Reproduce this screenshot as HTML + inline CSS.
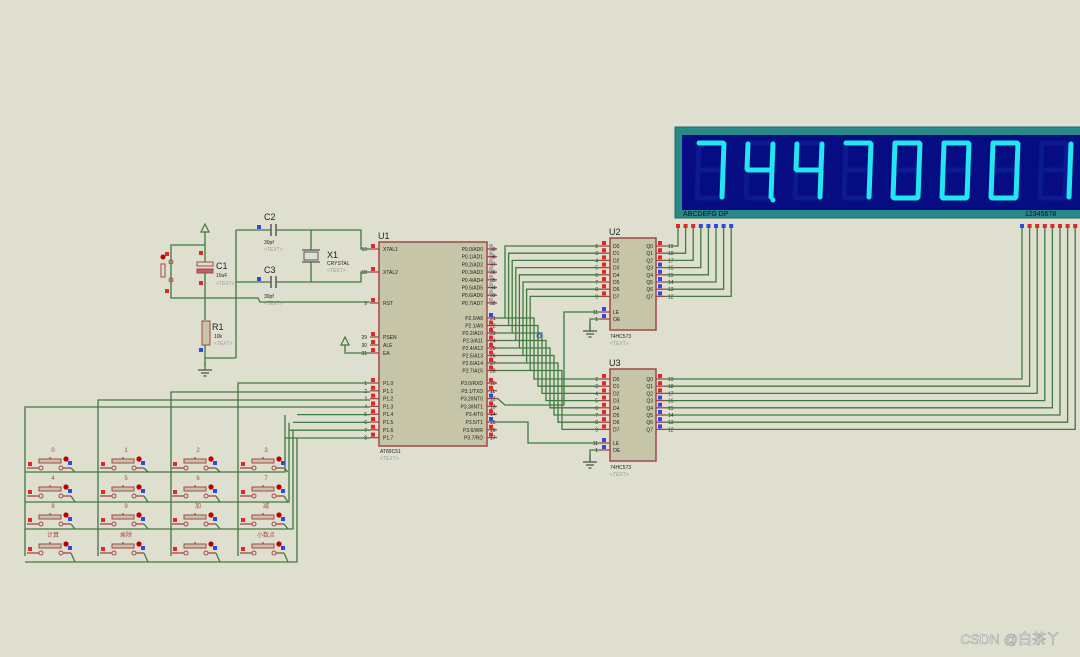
<!DOCTYPE html>
<html><head><meta charset="utf-8"><style>
html,body{margin:0;padding:0;background:#dfdfcf;}
svg{display:block;font-family:"Liberation Sans","Noto Sans CJK SC",sans-serif;}
</style></head><body>
<svg id="s" width="1080" height="657" viewBox="0 0 1080 657" xmlns="http://www.w3.org/2000/svg">
<rect width="1080" height="657" fill="#dfdfcf"/>
<g id="g"></g>
<text x="1060" y="644" text-anchor="end" font-size="14" fill="#ffffff" stroke="#9a9a9a" stroke-width="0.6">CSDN @白茶丫</text>
</svg>
<script>
const NS="http://www.w3.org/2000/svg",G=document.getElementById('g');
const W='#3f7a3f',R='#a04848',RED='#e02828',BLU='#3048e0';
function el(n,a,txt){const e=document.createElementNS(NS,n);for(const k in a)e.setAttribute(k,a[k]);if(txt!==undefined)e.textContent=txt;G.appendChild(e);return e;}
function pl(p,c,w){el('polyline',{points:p.map(q=>q.join(',')).join(' '),fill:'none',stroke:c||W,'stroke-width':w||1.3});}
function ln(x1,y1,x2,y2,c,w){el('line',{x1,y1,x2,y2,stroke:c||W,'stroke-width':w||1.3});}
function pin(x,y,c){el('rect',{x:x-2,y:y-2,width:4,height:4,fill:c});}
function t(x,y,s,sz,f,a,fw){el('text',{x,y,'font-size':sz,fill:f||'#333','text-anchor':a||'start','font-weight':fw||'normal'},s);}
function gnd(x,y){ln(x,y-8,x,y,W);ln(x-7,y,x+7,y,'#555');ln(x-4,y+3,x+4,y+3,'#555');ln(x-1.5,y+6,x+1.5,y+6,'#555');}
function pwr(x,y){el('polygon',{points:`${x},${y} ${x-4},${y+8} ${x+4},${y+8}`,fill:'none',stroke:W,'stroke-width':1.2});}

/* display */
el('rect',{x:675,y:127,width:410,height:91,fill:'#2a8888',stroke:'#1c6a6a'});
el('rect',{x:682,y:135,width:400,height:75,fill:'#060c82'});
t(683,216,'ABCDEFG  DP',7,'#111');t(1025,216,'12345678',7,'#111');
const SEG={a:[[2,0],[26,0]],b:[[27,1],[26,26]],c:[[26,28],[25,54]],d:[[1,55],[24,55]],e:[[1,28],[0,54]],f:[[2,1],[1,26]],g:[[2,27],[25,27]]};
const DIG={'7':'abc','4':'fgbc','0':'abcdef','1':'bc'};
const xs=[697,746,795,844,893,942,991,1040],ds=['7','4','4','7','0','0','0','1'];
for(let i=0;i<8;i++){const x0=xs[i],y0=143;
 for(const s of 'abcdefg'){const p=SEG[s];el('line',{x1:x0+p[0][0],y1:y0+p[0][1],x2:x0+p[1][0],y2:y0+p[1][1],stroke:'#0a1a90','stroke-width':5,'stroke-linecap':'round'});}
 for(const s of DIG[ds[i]]){const p=SEG[s];let dx=i==7?4:0;el('line',{x1:x0+p[0][0]+dx,y1:y0+p[0][1],x2:x0+p[1][0]+dx,y2:y0+p[1][1],stroke:'#22e6f0','stroke-width':5,'stroke-linecap':'round'});}}
el('circle',{cx:773,cy:200,r:2.5,fill:'#22e6f0'});
for(let i=0;i<8;i++){pin(678+7.6*i,226,i<3?RED:BLU);pin(1022+7.6*i,226,i==0?BLU:RED);}

/* U1 */
el('rect',{x:379,y:242,width:108,height:204,fill:'#c7c5a8',stroke:R,'stroke-width':1.5});
t(378,239,'U1',9,'#222');t(380,453,'AT89C51',5,'#222');t(380,460,'<TEXT>',5,'#999');
const lp=[[249,'19','XTAL1'],[272,'18','XTAL2'],[303,'9','RST'],[337,'29','PSEN'],[345,'30','ALE'],[353,'31','EA']];
for(let i=0;i<8;i++)lp.push([383+7.8*i,''+(i+1),'P1.'+i]);
for(const [y,n,l] of lp){ln(370,y,379,y,R);t(367,y+2,n,5,'#222','end');t(383,y+2,l,5,'#222');pin(373,y-3,RED);}
const p0=['P0.0/AD0','P0.1/AD1','P0.2/AD2','P0.3/AD3','P0.4/AD4','P0.5/AD5','P0.6/AD6','P0.7/AD7'];
const p2=['P2.0/A8','P2.1/A9','P2.2/A10','P2.3/A11','P2.4/A12','P2.5/A13','P2.6/A14','P2.7/A15'];
const p3=['P3.0/RXD','P3.1/TXD','P3.2/INT0','P3.3/INT1','P3.4/T0','P3.5/T1','P3.6/WR','P3.7/RD'];
for(let i=0;i<8;i++){
 let y=249+7.7*i;ln(487,y,497,y,R);t(483,y+2,p0[i],5,'#222','end');t(490,y+2,''+(39-i),5,'#222');pin(491,y-3,'#aaa');
 y=318+7.5*i;ln(487,y,497,y,R);t(483,y+2,p2[i],5,'#222','end');t(490,y+2,''+(21+i),5,'#222');pin(491,y-3,i==0?BLU:RED);
 y=383+7.8*i;ln(487,y,497,y,R);t(483,y+2,p3[i],5,'#222','end');t(490,y+2,''+(10+i),5,'#222');pin(491,y-3,(i==2||i==5)?BLU:RED);}

/* latches */
function latch(y0,name,dy,le){
 el('rect',{x:610,y:y0,width:46,height:le+12-y0+6,fill:'#c7c5a8',stroke:R,'stroke-width':1.5});
 t(609,y0-3,name,9,'#222');t(610,le+26,'74HC573',5,'#222');t(610,le+33,'<TEXT>',5,'#999');
 for(let i=0;i<8;i++){const y=dy+7.2*i;ln(600,y,610,y,R);ln(656,y,666,y,R);t(613,y+2,'D'+i,5,'#222');t(653,y+2,'Q'+i,5,'#222','end');
  t(598,y+2,''+(2+i),5,'#222','end');t(668,y+2,''+(19-i),5,'#222');pin(604,y-3,RED);pin(660,y-3,i<3?RED:BLU);}
 ln(600,le,610,le,R);ln(600,le+7,610,le+7,R);t(613,le+2,'LE',5,'#222');t(613,le+9,'OE',5,'#222');
 t(598,le+2,'11',5,'#222','end');t(598,le+9,'1',5,'#222','end');pin(604,le-3,BLU);pin(604,le+4,BLU);
 pl([[600,le+7],[590,le+7],[590,le+19]]);gnd(590,le+19);}
latch(238,'U2',246,312);latch(369,'U3',379,443);

for(let i=0;i<8;i++){
 const yp=318+7.5*i,xa=505+3.6*i,xb=534+4*i,yu=246+7.2*i,yl=379+7.2*i;
 pl([[600,yu],[xa,yu],[xa,yp]]);
 pl([[497,yp],[xb,yp],[xb,yl],[600,yl]]);
 pl([[666,yu],[678+7.6*i,yu],[678+7.6*i,228]]);
 pl([[666,yl],[1022+7.6*i,yl],[1022+7.6*i,228]]);}
el('circle',{cx:539,cy:336,r:2,fill:'none',stroke:BLU});
pl([[497,398],[505,405],[564,405],[564,312],[600,312]]);
pl([[497,422],[528,422],[528,443],[600,443]]);

/* clock/reset */
pl([[236,230],[262,230]]);ln(236,230,236,358);pl([[205,358],[236,358]]);
ln(262,230,271,230);ln(271,224,271,236,'#555',1.5);ln(276,224,276,236,'#555',1.5);pl([[276,230],[361,230],[361,249],[370,249]]);
ln(258,282,271,282);ln(271,276,271,288,'#555',1.5);ln(276,276,276,288,'#555',1.5);pl([[276,282],[361,282],[361,272],[370,272]]);
ln(236,282,258,282);
ln(311,230,311,250);ln(311,262,311,282);el('rect',{x:304,y:252,width:14,height:8,fill:'none',stroke:'#555'});ln(302,250,320,250,'#555');ln(302,262,320,262,'#555');
pin(259,227,BLU);pin(259,279,BLU);
t(264,220,'C2',9,'#222');t(264,244,'30pf',5,'#222');t(264,251,'<TEXT>',5,'#999');
t(264,273,'C3',9,'#222');t(264,298,'30pf',5,'#222');t(264,305,'<TEXT>',5,'#999');
t(327,258,'X1',9,'#222');t(327,265,'CRYSTAL',5,'#222');t(327,272,'<TEXT>',5,'#999');
pwr(205,224);ln(205,232,205,262);pl([[205,245],[171,245],[171,298],[258,298],[260,302],[370,302]]);
el('rect',{x:197,y:262,width:16,height:4,fill:'none',stroke:R});el('rect',{x:197,y:269,width:16,height:4,fill:'#c06060',stroke:R});
pin(201,253,RED);pin(201,283,RED);ln(205,273,205,320);
el('rect',{x:202,y:321,width:8,height:24,fill:'#c7c5a8',stroke:R});ln(205,345,205,365);pin(201,350,BLU);
t(216,269,'C1',9,'#222');t(216,277,'10uF',5,'#222');t(216,285,'<TEXT>',5,'#999');
t(212,330,'R1',9,'#222');t(214,338,'10k',5,'#222');t(214,345,'<TEXT>',5,'#999');
gnd(205,370);
el('circle',{cx:171,cy:262,r:2,fill:'none',stroke:R});el('circle',{cx:171,cy:280,r:2,fill:'none',stroke:R});
el('rect',{x:161,y:264,width:4,height:13,fill:'none',stroke:R});el('circle',{cx:163,cy:257,r:2.5,fill:'#b00'});pin(167,254,RED);pin(167,291,RED);
pwr(345,337);pl([[345,345],[345,353],[370,353]]);

/* keypad */
const cx=[25,98,170,238],rowY=[472,502,529,562];
const labels=[['0','1','2','3'],['4','5','6','7'],['8','9','加','减'],['计算','乘除','','小数点']];
pl([[370,383],[238,383],[238,556]]);pl([[370,392],[171,392],[171,556]]);pl([[370,400],[98,400],[98,556]]);pl([[370,407],[25,407],[25,556]]);
const rx=[285,289,293,297];
for(let r=0;r<4;r++){pl([[370,438-7.8*(3-r)],[rx[3-r],438-7.8*(3-r)]]);}
for(let r=0;r<4;r++){const y=rowY[r];const xr=[285,289,293,297][r];
 pl([[xr,415+7.8*r],[xr,y],[25,y]]);}
for(let r=0;r<4;r++)for(let c=0;c<4;c++){
 const x=[27,100,172,240][c],y=[468,496,524,553][r];
 ln(x,y,x+12,y,R);ln(x+36,y,x+44,y,R);ln(x+44,y,x+48,rowY[r]);
 el('circle',{cx:x+14,cy:y,r:2,fill:'none',stroke:R});el('circle',{cx:x+34,cy:y,r:2,fill:'none',stroke:R});
 el('rect',{x:x+12,y:y-9,width:22,height:4,fill:'#c7c5a8',stroke:R});ln(x+23,y-9,x+23,y-11,R);
 pin(x+3,y-4,RED);el('circle',{cx:x+39,cy:y-9,r:2.6,fill:'#b00'});pin(x+43,y-5,BLU);
 t(x+26,y-16,labels[r][c],6,'#a04848','middle');}
</script>
</body></html>
